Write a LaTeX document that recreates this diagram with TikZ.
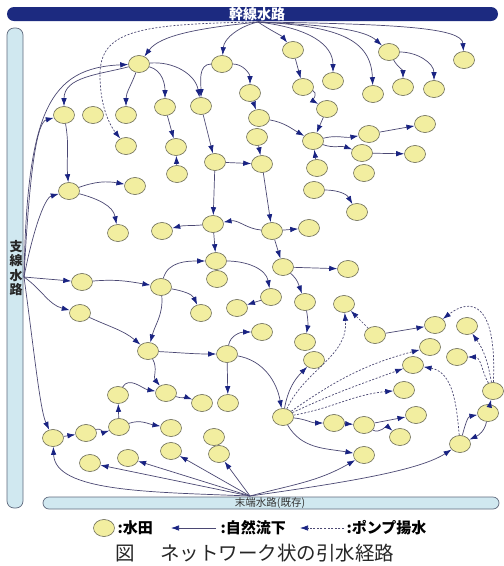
\documentclass[tikz,border=0pt]{standalone}
\usepackage{fontspec}
\newfontfamily\cjk{Noto Sans CJK JP}
\usetikzlibrary{shapes.geometric,arrows.meta}
\definecolor{paddyfill}{RGB}{242,238,160}
\definecolor{paddyline}{RGB}{105,105,85}
\definecolor{flowline}{RGB}{75,72,115}
\definecolor{headc}{RGB}{25,35,130}
\definecolor{topbar}{RGB}{28,42,128}
\definecolor{sidefill}{RGB}{208,232,240}
\definecolor{sideline}{RGB}{95,105,125}
\tikzset{
  paddy/.style={ellipse, draw=paddyline, fill=paddyfill, minimum width=21pt, minimum height=17pt, inner sep=0pt, line width=0.6pt},
  flow/.style={draw=flowline, line width=0.7pt, -{Latex[length=8pt,width=5.5pt,color=headc]}},
  pump/.style={flow, dash pattern=on 2pt off 1.6pt},
  sidebar/.style={draw=sideline, fill=sidefill, line width=0.7pt},
  legtext/.style={anchor=west, font=\cjk\bfseries\fontsize{15}{15}\selectfont},
}
\begin{document}
\begin{tikzpicture}[x=1pt,y=-1pt]
\fill[white] (0,0) rectangle (504,566);
\useasboundingbox (0,0) rectangle (504,566);
% bars
\fill[topbar, rounded corners=7pt] (7,7) rectangle (498,21);
\node[text=white, font=\cjk\bfseries\fontsize{14}{14}\selectfont] (toptext) at (257,14) {幹線水路};
\draw[sidebar, rounded corners=7pt] (7,28) rectangle (23,508);
\node[align=center, text=black!85, font=\cjk\bfseries\fontsize{13}{14.5}\selectfont] (lefttext) at (16,268) {支\\線\\水\\路};
\draw[sidebar, rounded corners=6pt] (43,497) rectangle (499,509);
\node[text=black!80, font=\cjk\fontsize{10.5}{10.5}\selectfont] (bottext) at (270,503) {末端水路(既存)};
\coordinate (top) at (258,22);
\coordinate (lft) at (24,277);
\coordinate (bot) at (250,496);
% paddies
\node[paddy] (n1) at (139,64) {};
\node[paddy] (n2) at (222,64) {};
\node[paddy] (n3) at (293,50) {};
\node[paddy] (n4) at (333,81) {};
\node[paddy] (n5) at (373,94) {};
\node[paddy] (n6) at (389,52) {};
\node[paddy] (n7) at (403,87) {};
\node[paddy] (n8) at (434,89) {};
\node[paddy] (n9) at (464,60) {};
\node[paddy] (n10) at (64,115) {};
\node[paddy] (n11) at (93,115) {};
\node[paddy] (n12) at (126,115) {};
\node[paddy] (n13) at (165,107) {};
\node[paddy] (n14) at (201,106) {};
\node[paddy] (n15) at (126,146) {};
\node[paddy] (n16) at (176,147) {};
\node[paddy] (n17) at (177,174) {};
\node[paddy] (n18) at (215,162) {};
\node[paddy] (n19) at (250,93) {};
\node[paddy] (n20) at (303,87) {};
\node[paddy] (n21) at (327,109) {};
\node[paddy] (n22) at (259,118) {};
\node[paddy] (n23) at (257,137) {};
\node[paddy] (n24) at (262,164) {};
\node[paddy] (n25) at (313,141) {};
\node[paddy] (n26) at (369,134) {};
\node[paddy] (n27) at (425,124) {};
\node[paddy] (n28) at (362,153) {};
\node[paddy] (n29) at (415,154) {};
\node[paddy] (n30) at (364,173) {};
\node[paddy] (n31) at (317,168) {};
\node[paddy] (n32) at (314,190) {};
\node[paddy] (n33) at (357,212) {};
\node[paddy] (n34) at (69,191) {};
\node[paddy] (n35) at (135,186) {};
\node[paddy] (n36) at (118,233) {};
\node[paddy] (n37) at (162,231) {};
\node[paddy] (n40) at (272,231) {};
\node[paddy] (n41) at (213,224) {};
\node[paddy] (n42) at (309,228) {};
\node[paddy] (n43) at (216,261) {};
\node[paddy] (n44) at (217,279) {};
\node[paddy] (n45) at (283,267) {};
\node[paddy] (n46) at (348,269) {};
\node[paddy] (n47) at (305,302) {};
\node[paddy] (n48) at (305,342) {};
\node[paddy] (n49) at (271,297) {};
\node[paddy] (n50) at (237,308) {};
\node[paddy] (n51) at (161,287) {};
\node[paddy] (n52) at (82,282) {};
\node[paddy] (n53) at (201,313) {};
\node[paddy] (n54) at (148,351) {};
\node[paddy] (n55) at (80,313) {};
\node[paddy] (n56) at (227,354) {};
\node[paddy] (n57) at (262,332) {};
\node[paddy] (n58) at (228,403) {};
\node[paddy] (n59) at (166,393) {};
\node[paddy] (n60) at (314,360) {};
\node[paddy] (n61) at (118,395) {};
\node[paddy] (n62) at (202,403) {};
\node[paddy] (n63) at (53,438) {};
\node[paddy] (n64) at (86,433) {};
\node[paddy] (n65) at (119,427) {};
\node[paddy] (n66) at (171,428) {};
\node[paddy] (n67) at (214,437) {};
\node[paddy] (n68) at (219,454) {};
\node[paddy] (n69) at (90,463) {};
\node[paddy] (n70) at (128,458) {};
\node[paddy] (n71) at (171,451) {};
\node[paddy] (hub) at (283,417) {};
\node[paddy] (n73) at (460,444) {};
\node[paddy] (n74) at (364,455) {};
\node[paddy] (n75) at (344,304) {};
\node[paddy] (n76) at (430,347) {};
\node[paddy] (n77) at (413,365) {};
\node[paddy] (n78) at (404,390) {};
\node[paddy] (n79) at (375,335) {};
\node[paddy] (n80) at (435,325) {};
\node[paddy] (n81) at (467,326) {};
\node[paddy] (n82) at (457,357) {};
\node[paddy] (n83) at (493,391) {};
\node[paddy] (n84) at (488,413) {};
\node[paddy] (n85) at (334,423) {};
\node[paddy] (n86) at (364,425) {};
\node[paddy] (n87) at (416,415) {};
\node[paddy] (n88) at (400,437) {};
% top fan
\draw[flow] (top) .. controls (200,28) and (160,35) .. (n1);
\draw[flow] (top) .. controls (240,26) and (224,38) .. (n2);
\draw[flow] (top) .. controls (270,30) and (282,36) .. (n3);
\draw[flow] (top) .. controls (310,28) and (333,45) .. (n4);
\draw[flow] (top) .. controls (340,26) and (371,40) .. (n5);
\draw[flow] (top) .. controls (330,25) and (365,30) .. (n6);
\draw[flow] (top) .. controls (400,24) and (462,28) .. (n9);
\draw[pump] (top) .. controls (140,24) and (100,30) .. (100,75) .. controls (100,110) and (112,128) .. (n15);
% upper network
\draw[flow] (n3) -- (n20);
\draw[flow] (n20) to[out=-20,in=150] (n21);
\draw[flow] (n21) -- (n25);
\draw[flow] (n6) to[out=-60,in=90] (n7);
\draw[flow] (n6) to[out=0,in=90] (n8);
\draw[flow] (n2) to[out=180,in=90] (n14);
\draw[flow] (n2) to[out=0,in=90] (n19);
\draw[flow] (n19) -- (n22);
\draw[flow] (n22) to[out=-10,in=150] (n25);
\draw[flow] (n1) to[out=195,in=90] (n10);
\draw[flow] (n1) to[out=-110,in=90] (n12);
\draw[flow] (n1) to[out=-15,in=90] (n13);
\draw[flow] (n1) to[out=5,in=100] (n14);
\draw[flow] (n14) -- (n18);
\draw[flow] (n13) -- (n16);
\draw[flow] (n17) -- (n16);
\draw[flow] (n18) -- (n24);
\draw[flow] (n23) -- (n24);
\draw[flow] (n25) to[out=15,in=190] (n26);
\draw[flow] (n26) -- (n27);
\draw[flow] (n25) to[out=-20,in=160] (n28);
\draw[flow] (n28) -- (n29);
\draw[flow] (n31) -- (n25);
\draw[flow] (n32) to[out=0,in=120] (n33);
\draw[flow] (n10) to[out=-80,in=95] (n34);
\draw[flow] (n34) to[out=20,in=170] (n35);
\draw[flow] (n34) to[out=-15,in=100] (n36);
\draw[flow] (n18) -- (n41);
\draw[flow] (n24) -- (n40);
\draw[flow] (n40) to[out=175,in=10] (n41);
\draw[flow] (n41) to[out=185,in=15] (n37);
\draw[flow] (n40) -- (n42);
\draw[flow] (n41) -- (n43);
\draw[flow] (n40) -- (n45);
\draw[flow] (n45) -- (n46);
\draw[flow] (n45) to[out=-40,in=110] (n47);
\draw[flow] (n47) to[bend left=10] (n48);
\draw[flow] (n43) to[out=0,in=100] (n49);
\draw[flow] (n49) -- (n50);
\draw[flow] (n52) to[out=5,in=170] (n51);
\draw[flow] (n51) to[out=75,in=180] (n43);
\draw[flow] (n51) to[out=-10,in=115] (n53);
\draw[flow] (n51) to[out=-85,in=75] (n54);
\draw[flow] (n55) to[out=-25,in=140] (n54);
\draw[flow] (n54) to[out=-3,in=180] (n56);
\draw[flow] (n56) to[out=80,in=180] (n57);
\draw[flow] (n56) -- (n58);
\draw[flow] (n56) to[out=-10,in=100] (hub);
\draw[flow] (n54) to[out=-60,in=130] (n59);
\draw[flow] (hub) to[out=80,in=225] (n60);
\draw[flow] (n61) to[out=60,in=170] (n59);
\draw[flow] (n59) to[out=-20,in=160] (n62);
\draw[flow] (n65) -- (n61);
\draw[flow] (n63) -- (n64);
\draw[flow] (n64) to[out=20,in=200] (n65);
\draw[flow] (n65) to[out=20,in=170] (n66);
% left fan
\draw[flow] (lft) .. controls (27,110) and (50,68) .. (n1);
\draw[flow] (lft) .. controls (30,160) and (38,122) .. (n10);
\draw[flow] (lft) .. controls (32,235) and (44,198) .. (n34);
\draw[flow] (lft) to[out=-5,in=175] (n52);
\draw[flow] (lft) to[out=-35,in=165] (n55);
\draw[flow] (lft) .. controls (34,350) and (40,410) .. (n63);
% bottom fan
\draw[flow] (bot) .. controls (150,492) and (55,492) .. (n63);
\draw[flow] (bot) -- (n69);
\draw[flow] (bot) -- (n70);
\draw[flow] (bot) -- (n71);
\draw[flow] (bot) -- (n68);
\draw[flow] (bot) to[out=15,in=210] (n74);
\draw[flow] (bot) .. controls (350,482) and (420,470) .. (n73);
% hub region
\draw[flow] (hub) to[out=-5,in=180] (n85);
\draw[flow] (n85) -- (n86);
\draw[flow] (n86) -- (n87);
\draw[flow] (n86) to[out=-30,in=140] (n88);
\draw[flow] (hub) to[out=-60,in=170] (n74);
\draw[pump] (hub) to[out=65,in=-85] (n75);
\draw[pump] (hub) to[out=35,in=195] (n76);
\draw[pump] (hub) to[out=25,in=200] (n77);
\draw[pump] (hub) to[out=10,in=185] (n78);
\draw[pump] (n79) -- (n75);
\draw[flow] (n79) -- (n80);
\draw[pump] (n83) .. controls (497,300) and (470,298) .. (n80);
\draw[pump] (n83) to[out=100,in=-55] (n81);
\draw[pump] (n83) to[out=120,in=0] (n82);
\draw[pump] (n73) to[out=95,in=-10] (n77);
\draw[flow] (n73) to[out=75,in=190] (n84);
\draw[flow] (n84) to[out=-100,in=25] (n73);
\draw[flow] (n84) -- (n83);
% legend
\node[paddy] (lg1) at (104,528) {};
\node[legtext] (lg1t) at (114,528) {:水田};
\coordinate (lg2a) at (216,528);
\coordinate (lg2b) at (171,528);
\draw[flow] (lg2a) -- (lg2b);
\node[legtext] (lg2t) at (217,528) {:自然流下};
\coordinate (lg3a) at (344,528);
\coordinate (lg3b) at (300,528);
\draw[pump] (lg3a) -- (lg3b);
\node[legtext] (lg3t) at (343,528) {:ポンプ揚水};
\node[anchor=west, font=\cjk\fontsize{19.5}{19.5}\selectfont, text=black!85] (cap) at (112,553) {図\hspace{1.3em}ネットワーク状の引水経路};
\end{tikzpicture}
\end{document}
